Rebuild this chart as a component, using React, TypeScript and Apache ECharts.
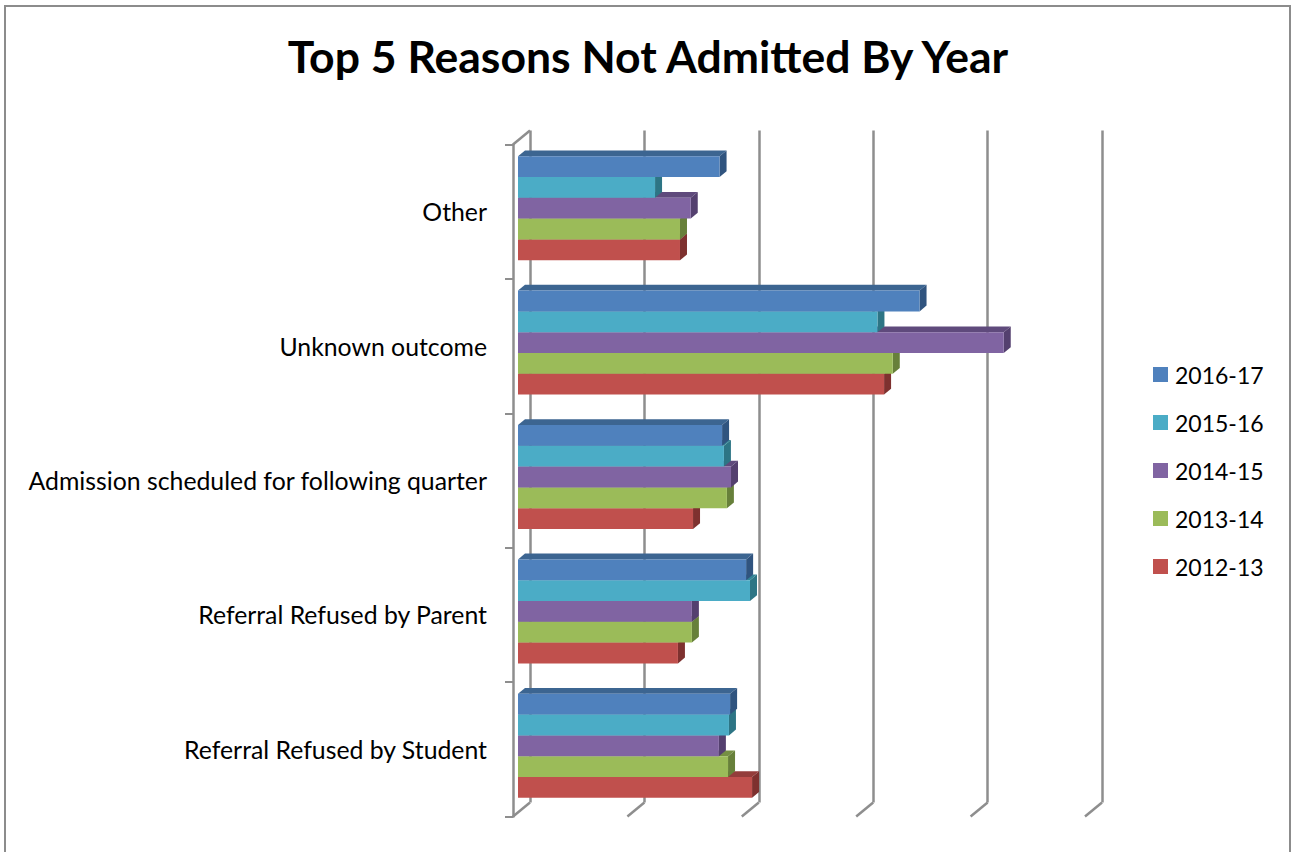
import React, { useEffect, useRef } from "react";
import * as echarts from "echarts";

const titleText = "Top 5 Reasons Not Admitted By Year";
const categories = [
  "Referral Refused by Student",
  "Referral Refused by Parent",
  "Admission scheduled for following quarter",
  "Unknown outcome",
  "Other",
];
const years = ["2016-17", "2015-16", "2014-15", "2013-14", "2012-13"];
const v201617 = [9.27, 9.97, 8.92, 17.55, 8.81];
const v201516 = [9.22, 10.14, 9.0, 15.71, 5.99];
const v201415 = [8.78, 7.6, 9.31, 21.23, 7.55];
const v201314 = [9.18, 7.6, 9.13, 16.38, 7.08];
const v201213 = [10.23, 6.99, 7.65, 16.0, 7.08];
const seriesValues = [v201617, v201516, v201415, v201314, v201213];
const frontColors = ["#4F81BD", "#4BACC6", "#8064A2", "#9BBB59", "#C0504D"];
const topColors = ["#3C6591", "#338496", "#5F4A7C", "#758F43", "#943D3B"];
const sideColors = ["#30547F", "#2D7585", "#54406F", "#67803A", "#7E312F"];
const floorTicks = [0, 5, 10, 15, 20, 25];

const AXIS_COLOR = "#8E8E8E";
const FONT = "Lato, 'Open Sans', sans-serif";

export default function App() {
  const ref = useRef<HTMLDivElement>(null);
  useEffect(() => {
    document.body.style.margin = "0";
    const chart = echarts.init(ref.current!, undefined, { renderer: "svg" });
    const barH = 20.8;
    const depthX = 7;
    const depthY = 5.8;
    const wallX = 17;
    const wallY = 14;

    const barSeries = years
      .map((year, k) => ({
        type: "custom",
        name: year,
        xAxisIndex: 2,
        yAxisIndex: 2,
        clip: false,
        silent: true,
        z: 5,
        itemStyle: { color: frontColors[k] },
        encode: { x: 0, y: 1 },
        data: seriesValues[k].map((v, i) => [v, i]),
        renderItem: (_: any, api: any) => {
          const end = api.coord([api.value(0), api.value(1)]);
          const start = api.coord([0, api.value(1)]);
          const top = end[1] - (barH * years.length) / 2 + k * barH;
          const bot = top + barH;
          const xa = start[0];
          const xb = end[0];
          return {
            type: "group",
            children: [
              {
                type: "polygon",
                shape: { points: [[xa, top], [xa + depthX, top - depthY], [xb + depthX, top - depthY], [xb, top]] },
                style: { fill: topColors[k] },
              },
              {
                type: "polygon",
                shape: { points: [[xb, top], [xb + depthX, top - depthY], [xb + depthX, bot - depthY], [xb, bot]] },
                style: { fill: sideColors[k] },
              },
              {
                type: "rect",
                shape: { x: xa, y: top, width: xb - xa, height: barH },
                style: { fill: frontColors[k] },
              },
            ],
          };
        },
      }))
      .reverse();

    const floorSeries = {
      type: "custom",
      xAxisIndex: 0,
      yAxisIndex: 0,
      clip: false,
      silent: true,
      z: 1,
      encode: { x: 0 },
      data: floorTicks.map((v) => [v, 0]),
      renderItem: (params: any, api: any) => {
        const cs = params.coordSys;
        const x = api.coord([api.value(0), 0])[0];
        const lineStyle = { stroke: AXIS_COLOR, lineWidth: 2.5, fill: "none" };
        const bottomY = cs.y + cs.height;
        const children: any[] = [
          { type: "line", shape: { x1: x, y1: bottomY, x2: x + wallX, y2: bottomY - wallY }, style: lineStyle },
        ];
        if (params.dataIndex === 0) {
          children.push({
            type: "line",
            shape: { x1: x, y1: cs.y, x2: x + wallX, y2: cs.y - wallY },
            style: lineStyle,
          });
        }
        return { type: "group", children };
      },
    };

    const hiddenValueAxis = (gridIndex: number) => ({
      type: "value",
      gridIndex,
      min: 0,
      max: 25,
      interval: 5,
      show: false,
    });
    const hiddenCatAxis = (gridIndex: number) => ({
      type: "category",
      gridIndex,
      data: categories,
      show: false,
    });

    chart.setOption({
      animation: false,
      backgroundColor: "#ffffff",
      title: {
        text: titleText,
        left: 643,
        top: 28,
        textAlign: "center",
        textStyle: { fontFamily: FONT, fontSize: 44.5, fontWeight: "bold", color: "#000" },
      },
      legend: {
        orient: "vertical",
        left: 1148,
        top: 356,
        icon: "rect",
        itemWidth: 15,
        itemHeight: 15,
        itemGap: 21,
        data: years,
        selectedMode: false,
        textStyle: { fontFamily: FONT, fontSize: 23, color: "#000", padding: [0, 0, 0, 2], lineHeight: 27 },
      },
      grid: [
        { left: 513, top: 144.5, width: 572, height: 672 },
        { left: 530, top: 130.5, width: 572, height: 672 },
        { left: 518, top: 141, width: 572, height: 672 },
      ],
      xAxis: [
        hiddenValueAxis(0),
        {
          type: "value",
          gridIndex: 1,
          min: 0,
          max: 25,
          interval: 5,
          axisLine: { show: false },
          axisTick: { show: false },
          axisLabel: { show: false },
          splitLine: { show: true, lineStyle: { color: AXIS_COLOR, width: 2.5 } },
        },
        hiddenValueAxis(2),
      ],
      yAxis: [
        {
          type: "category",
          gridIndex: 0,
          data: categories,
          axisLine: { show: true, onZero: false, lineStyle: { color: AXIS_COLOR, width: 2.5 } },
          axisTick: { show: true, length: 8, lineStyle: { color: AXIS_COLOR, width: 2 } },
          axisLabel: { margin: 26, fontFamily: FONT, fontSize: 24.8, color: "#000", interval: 0 },
          splitLine: { show: false },
        },
        hiddenCatAxis(1),
        hiddenCatAxis(2),
      ],
      graphic: [
        {
          type: "polyline",
          shape: { points: [[5, 852], [5, 6], [1290, 6], [1290, 852]] },
          style: { stroke: "#8C8C8C", lineWidth: 2, fill: "none" },
        },
      ],
      series: [floorSeries, ...barSeries],
    });
    return () => chart.dispose();
  }, []);
  return <div ref={ref} style={{ position: "absolute", left: 0, top: 0, width: 1291, height: 852 }} />;
}
